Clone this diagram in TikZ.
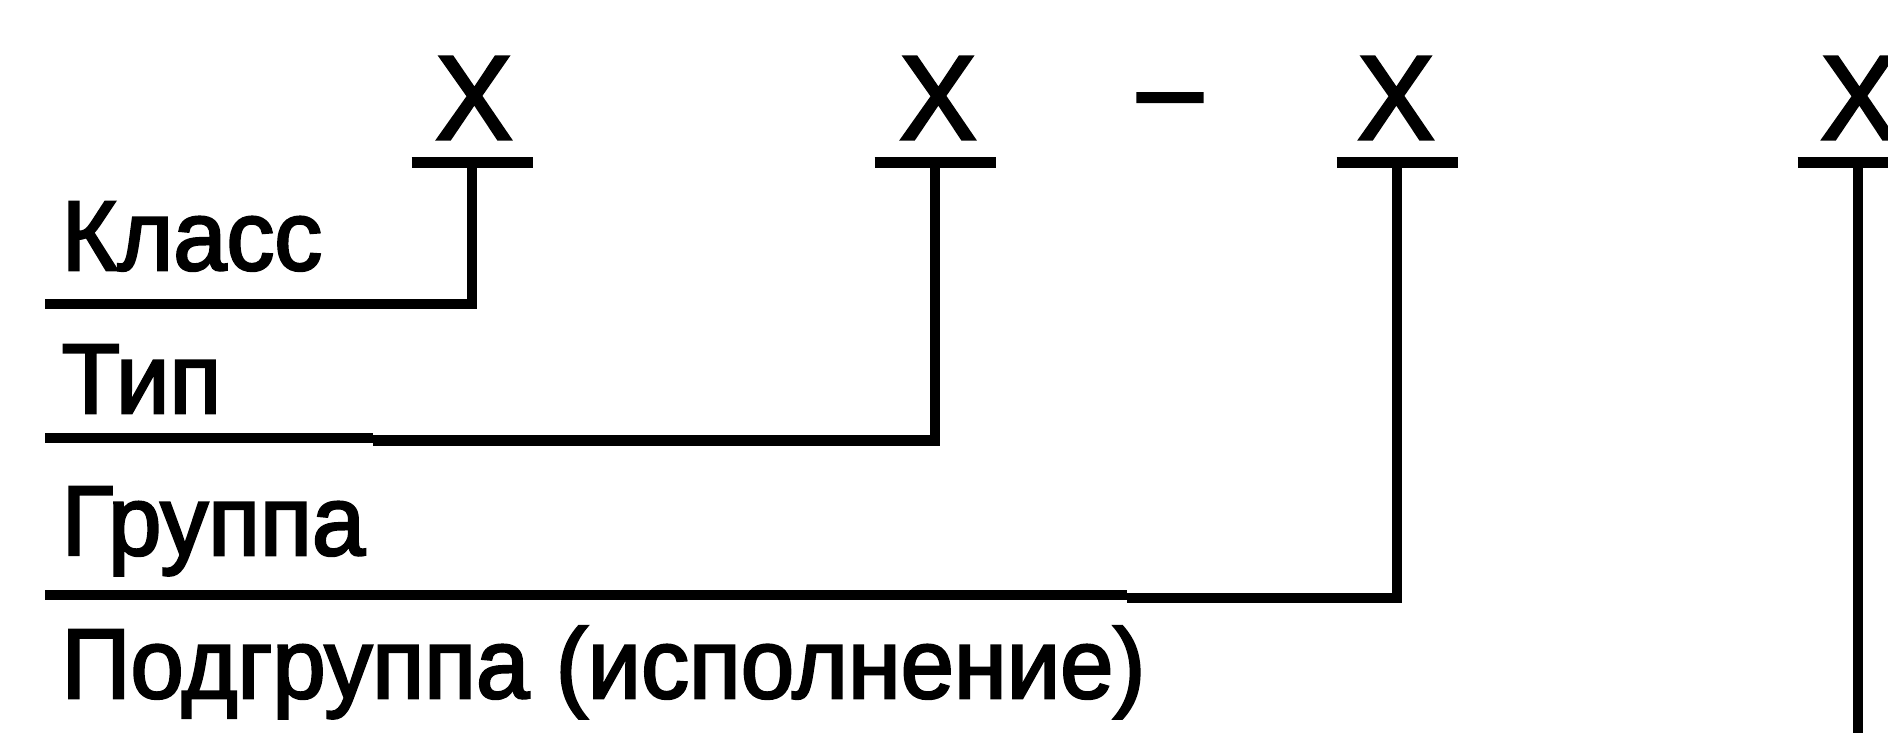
\documentclass[tikz,border=0pt]{standalone}
\usepackage{fontspec}
\setmainfont{Liberation Sans}[FakeBold=2.5, FakeStretch=0.965]
\usetikzlibrary{calc}

\begin{document}
\begin{tikzpicture}[
    x=0.01cm, y=-0.01cm,
    code/.style={font=\fontsize{34pt}{34pt}\selectfont, inner sep=0pt, anchor=base},
    field/.style={font=\fontsize{28.2pt}{28.2pt}\selectfont, inner sep=0pt, anchor=base west},
    rule/.style={line width=3pt}
]
\useasboundingbox (0,0) rectangle (1888,732);

% Code positions with their bars
\foreach \i/\cx/\gx in {1/472/474, 2/935/938, 3/1397/1396, 4/1858/1859} {
    \node[code] (x\i) at (\gx,139) {X};
    \coordinate (b\i) at (\cx,162.5);
    \draw[rule] (\cx-60.5,162.5) -- (\cx+60.5,162.5);
}

% Separator
\node[code] (dash) at (1170,128) {–};

% Field names
\node[field] (klass) at (61,270) {Класс};
\node[field] (tip) at (61,413) {Тип};
\node[field] (gruppa) at (61,555) {Группа};
\node[field] (podgruppa) at (61,698) {Подгруппа (исполнение)};

% Underlines
\coordinate (u1) at (45,304);
\coordinate (u2) at (45,438);
\coordinate (s2) at (373,438);
\coordinate (t2) at (373,440.5);
\coordinate (u3) at (45,595);
\coordinate (s3) at (1127,595);
\coordinate (t3) at (1127,598);
\coordinate (e4) at (1858,745);

% Leaders
\draw[rule] (u1) -| (b1);
\draw[rule] (u2) -- (s2);
\draw[rule] (t2) -| (b2);
\draw[rule] (u3) -- (s3);
\draw[rule] (t3) -| (b3);
\draw[rule] (b4) -- (e4);

\end{tikzpicture}
\end{document}
